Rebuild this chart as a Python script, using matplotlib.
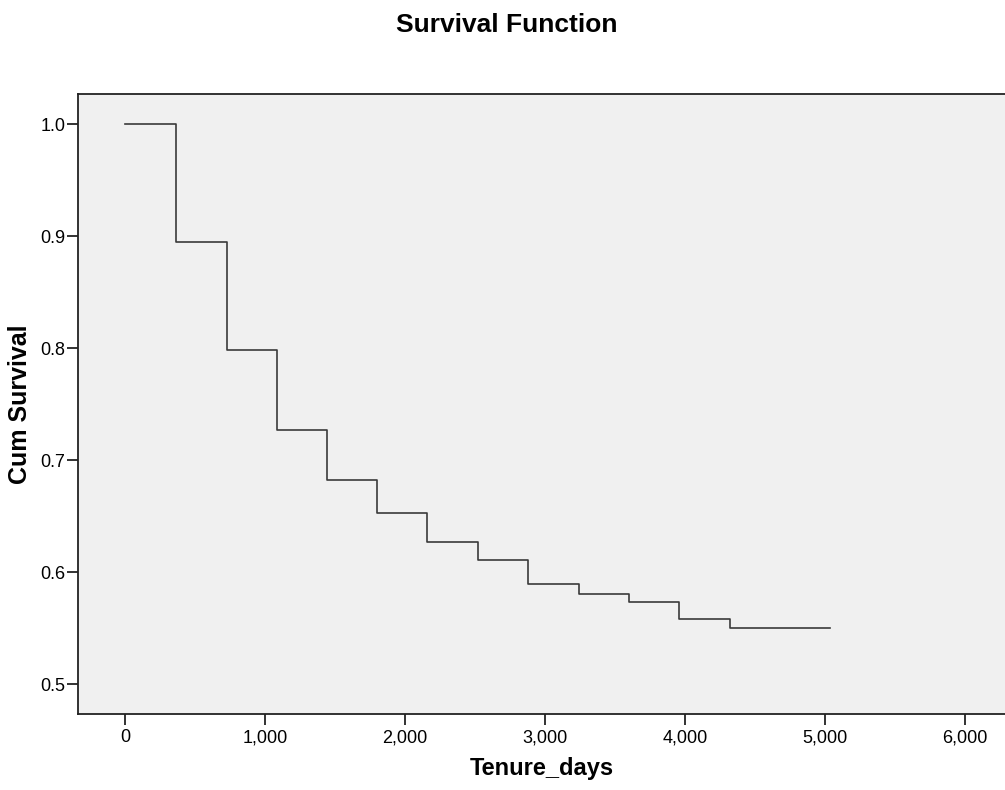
import matplotlib
matplotlib.use("Agg")
import matplotlib.pyplot as plt
from matplotlib.ticker import FuncFormatter

# Kaplan-Meier steps
step_days = [0, 365, 725, 1085, 1445, 1800, 2160, 2520, 2880, 3240, 3600, 3960, 4320]
cum_survival = [1.0, 0.895, 0.798, 0.727, 0.682, 0.653, 0.627, 0.611, 0.589, 0.580, 0.573, 0.558, 0.550]
last_day = 5036

x_ticks = [0, 1000, 2000, 3000, 4000, 5000, 6000]
y_ticks = [0.5, 0.6, 0.7, 0.8, 0.9, 1.0]

plt.rcParams['font.family'] = ['Liberation Sans', 'DejaVu Sans']

fig = plt.figure(figsize=(10.05, 7.9), dpi=100)
ax = fig.add_axes([78 / 1005, 76 / 790, 927 / 1005, 620 / 790])
ax.set_facecolor('#f0f0f0')

xs = step_days + [last_day]
ys = cum_survival + [cum_survival[-1]]
ax.step(xs, ys, where='post', color='#3a3a3a', linewidth=1.2)

ax.set_xlim(-336, 6286)
ax.set_ylim(0.4733, 1.0268)
ax.set_xticks(x_ticks)
ax.set_yticks(y_ticks)
ax.xaxis.set_major_formatter(FuncFormatter(lambda v, p: f'{int(v):,}'))
ax.yaxis.set_major_formatter(FuncFormatter(lambda v, p: f'{v:.1f}'))

ax.spines['right'].set_visible(False)
for s in ['left', 'bottom', 'top']:
    ax.spines[s].set_color('#222222')
    ax.spines[s].set_linewidth(1.3)
ax.tick_params(axis='both', direction='out', length=8, width=1.3, color='#222222', labelsize=13)
ax.tick_params(axis='y', pad=1)
ax.tick_params(axis='x', pad=3)

ax.set_xlabel('Tenure_days', fontsize=17, fontweight='bold', labelpad=8)
ax.set_ylabel('Cum Survival', fontsize=18, fontweight='bold', labelpad=6)
fig.text(507 / 1005, 1 - 25 / 790, 'Survival Function', ha='center', va='center',
         fontsize=19, fontweight='bold')

plt.savefig('out.png', dpi=100)
